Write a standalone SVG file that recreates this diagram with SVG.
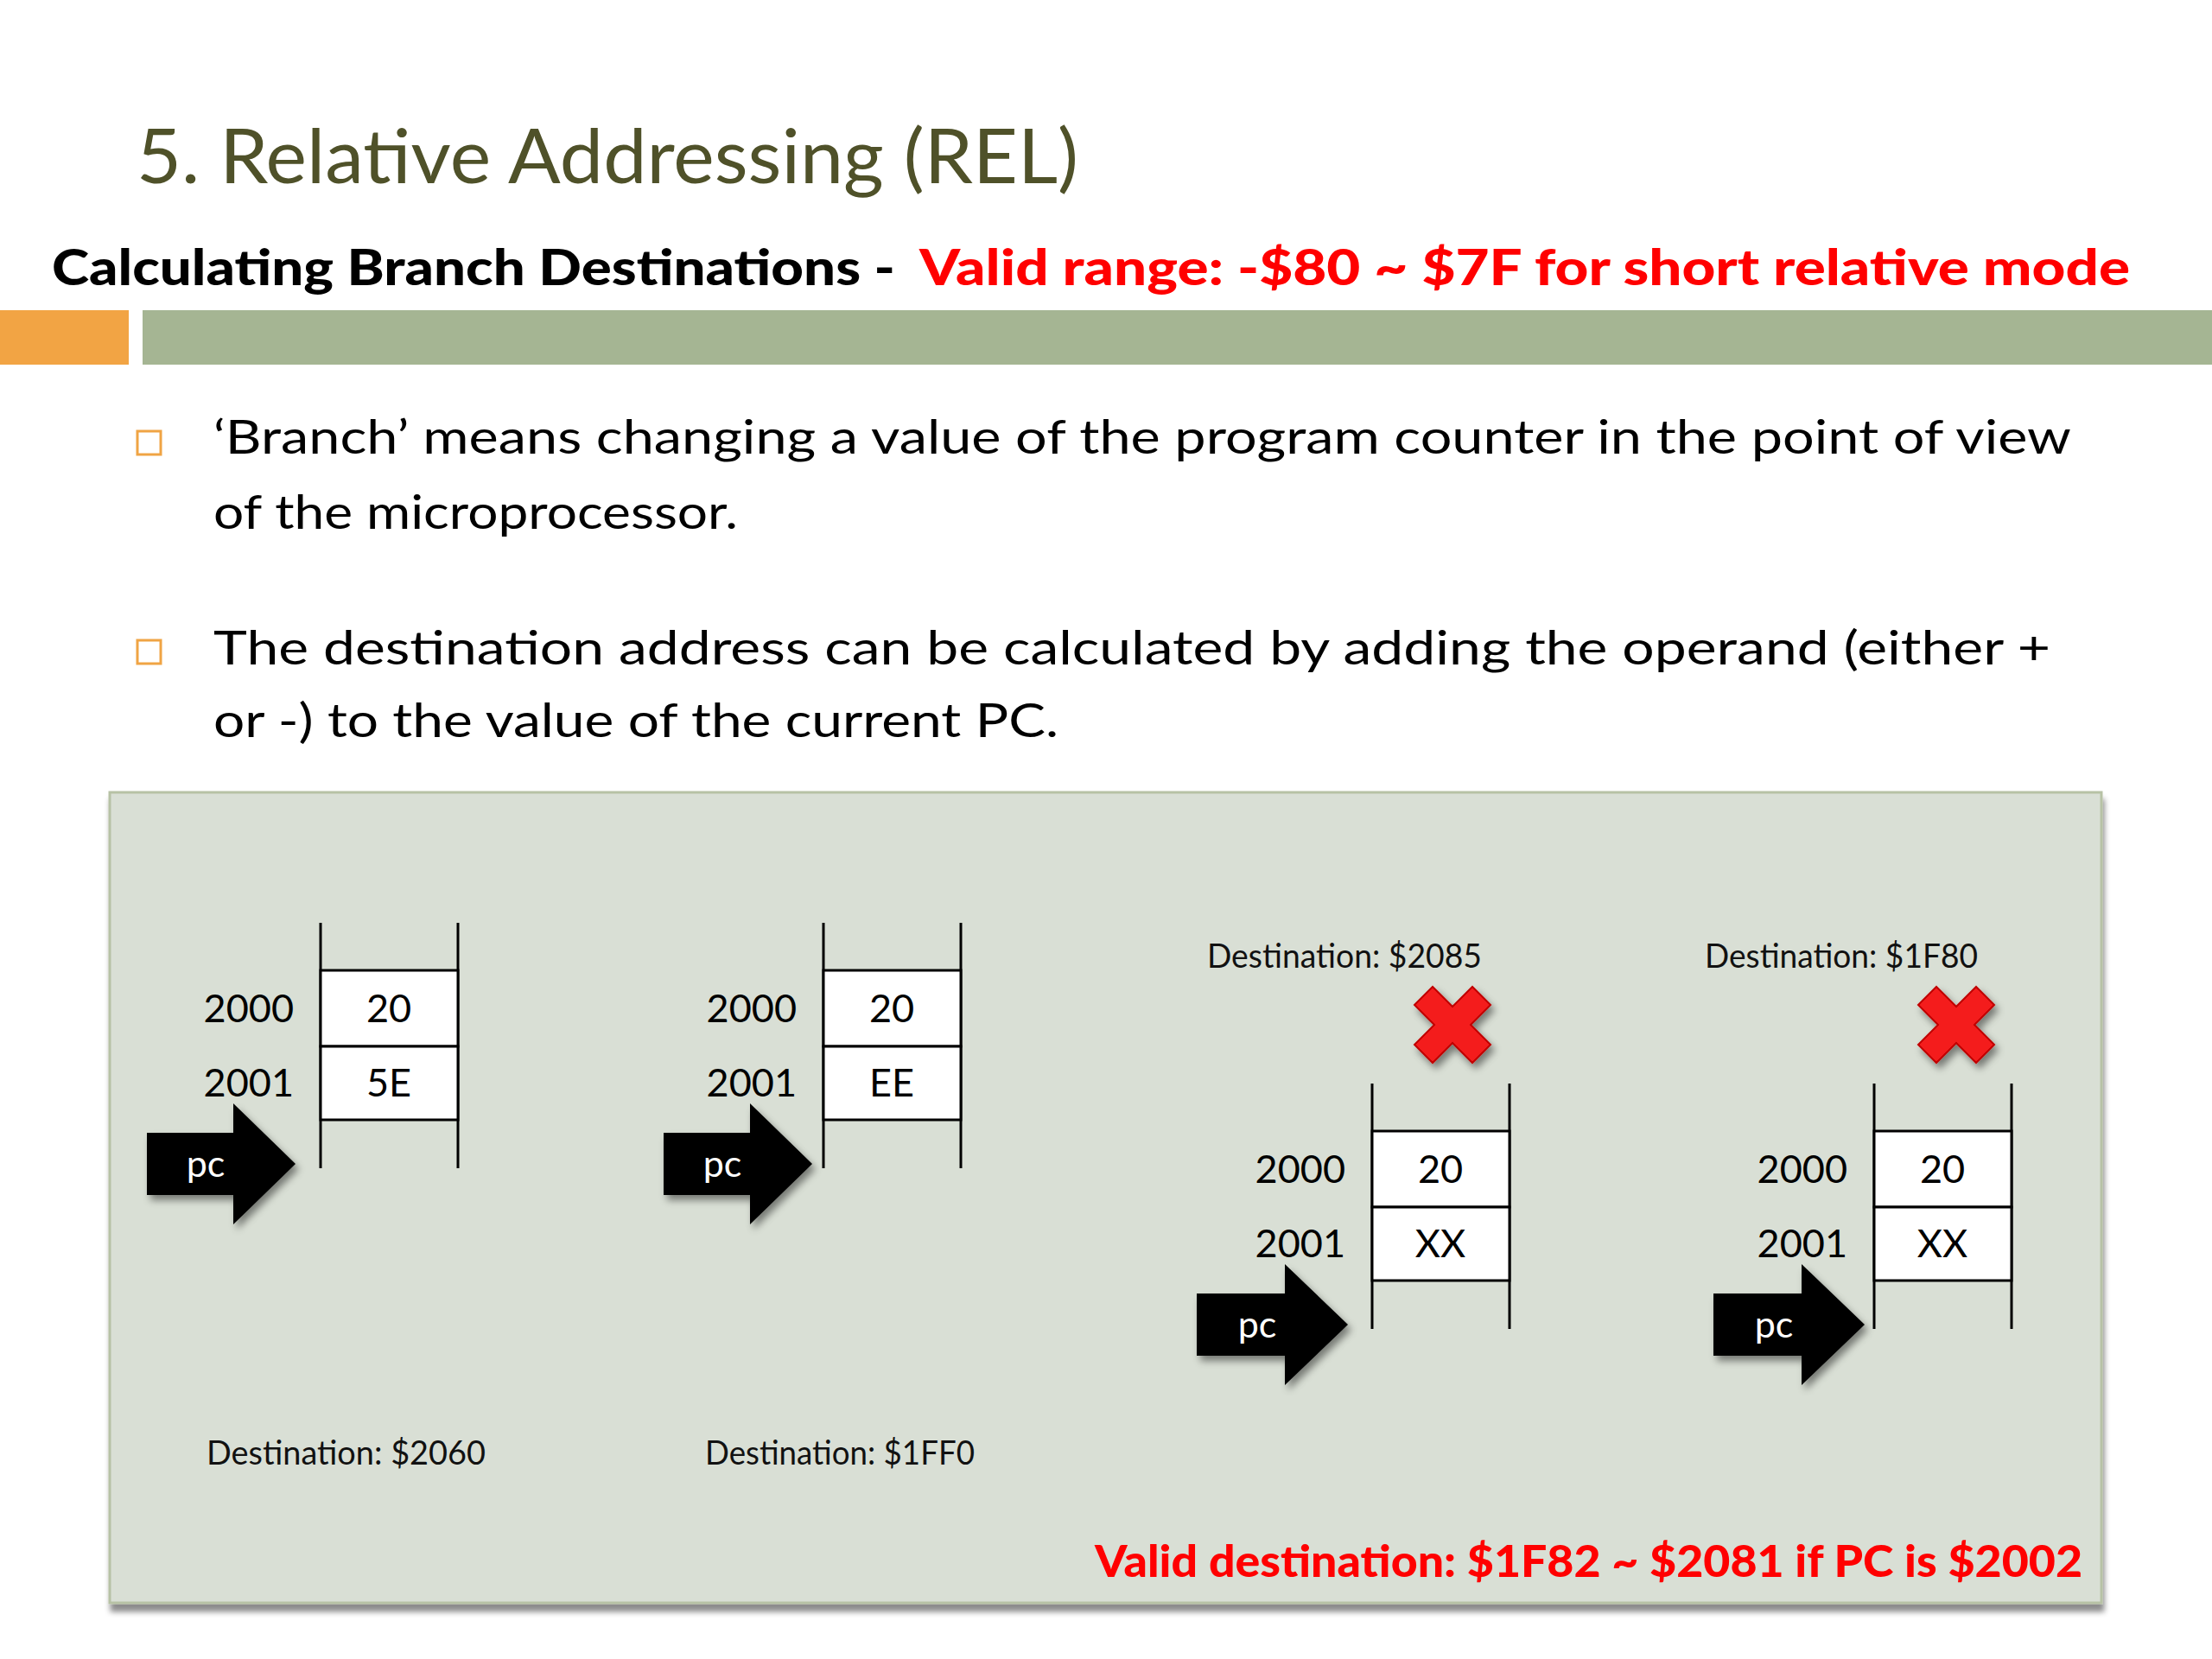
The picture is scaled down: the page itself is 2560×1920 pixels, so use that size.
<svg xmlns="http://www.w3.org/2000/svg" width="2560" height="1920" viewBox="0 0 2560 1920">
<style>
.title{font-family:Lato,"Open Sans","DejaVu Sans",sans-serif;font-size:88px;fill:#4F5129}
.sub{font-family:Lato,"Open Sans","DejaVu Sans",sans-serif;font-size:58px;font-weight:900}
.body{font-family:Lato,"Open Sans","DejaVu Sans",sans-serif;font-size:54px;fill:#000}
.dest{font-family:Lato,"Open Sans","DejaVu Sans",sans-serif;font-size:38px;fill:#111}
.mem{font-family:Lato,"Open Sans","DejaVu Sans",sans-serif;font-size:45px;fill:#000}
.pc{font-family:Lato,"Open Sans","DejaVu Sans",sans-serif;font-size:43px;fill:#fff}
.red{fill:#FF0000}
.cell{fill:#fff;stroke:#000;stroke-width:3}
.rail{stroke:#000;stroke-width:3}
.arrow{fill:#000;filter:url(#sh)}
.xmark{fill:#F41E1E;stroke:#C00000;stroke-width:2;filter:url(#sh)}
.bullet{fill:none;stroke:#F0A444;stroke-width:3}
</style>
<defs>
<filter id="sh" x="-30%" y="-30%" width="160%" height="160%">
<feDropShadow dx="4" dy="6" stdDeviation="4" flood-color="#000" flood-opacity="0.45"/>
</filter>
<filter id="psh" x="-5%" y="-5%" width="110%" height="115%">
<feDropShadow dx="2" dy="9" stdDeviation="3" flood-color="#000" flood-opacity="0.45"/>
</filter>
</defs>
<rect width="2560" height="1920" fill="#fff"/>

<g id="header">
<text class="title" x="158" y="212" textLength="1090" lengthAdjust="spacingAndGlyphs">5. Relative Addressing (REL)</text>
<text class="sub" x="60" y="330" textLength="976" lengthAdjust="spacingAndGlyphs" fill="#000">Calculating Branch Destinations -</text>
<text class="sub red" x="1064" y="330" textLength="1401" lengthAdjust="spacingAndGlyphs">Valid range: -$80 ~ $7F for short relative mode</text>
<rect x="0" y="359" width="149" height="63" fill="#F2A444"/>
<rect x="165" y="359" width="2395" height="63" fill="#A5B593"/>
</g>

<g id="bullets">
<rect class="bullet" x="159" y="499" width="27" height="27"/>
<text class="body" x="247" y="525" textLength="2150" lengthAdjust="spacingAndGlyphs">‘Branch’ means changing a value of the program counter in the point of view</text>
<text class="body" x="247" y="612" textLength="607" lengthAdjust="spacingAndGlyphs">of the microprocessor.</text>
<rect class="bullet" x="159" y="741" width="27" height="27"/>
<text class="body" x="247" y="769" textLength="2126" lengthAdjust="spacingAndGlyphs">The destination address can be calculated by adding the operand (either +</text>
<text class="body" x="247" y="853" textLength="978" lengthAdjust="spacingAndGlyphs">or -) to the value of the current PC.</text>
</g>

<g id="panel">
<rect x="127" y="917" width="2305" height="938" fill="#D9DFD5" stroke="#B7C2A5" stroke-width="3" filter="url(#psh)"/>
</g>

<g id="connectors"></g>

<g id="example1">
<line class="rail" x1="371" y1="1068" x2="371" y2="1352"/>
<line class="rail" x1="530" y1="1068" x2="530" y2="1352"/>
<rect class="cell" x="371" y="1123" width="159" height="88"/>
<rect class="cell" x="371" y="1211" width="159" height="85"/>
<text class="mem" x="340" y="1183" text-anchor="end">2000</text>
<text class="mem" x="340" y="1269" text-anchor="end">2001</text>
<text class="mem" x="450" y="1183" text-anchor="middle">20</text>
<text class="mem" x="450" y="1269" text-anchor="middle">5E</text>
<polygon class="arrow" points="170,1311 270,1311 270,1277 342,1347 270,1417 270,1383 170,1383"/>
<text class="pc" x="238" y="1362" text-anchor="middle">pc</text>
<text class="dest" x="239" y="1695" textLength="323" lengthAdjust="spacingAndGlyphs">Destination: $2060</text>
</g>

<g id="example2">
<line class="rail" x1="953" y1="1068" x2="953" y2="1352"/>
<line class="rail" x1="1112" y1="1068" x2="1112" y2="1352"/>
<rect class="cell" x="953" y="1123" width="159" height="88"/>
<rect class="cell" x="953" y="1211" width="159" height="85"/>
<text class="mem" x="922" y="1183" text-anchor="end">2000</text>
<text class="mem" x="922" y="1269" text-anchor="end">2001</text>
<text class="mem" x="1032" y="1183" text-anchor="middle">20</text>
<text class="mem" x="1032" y="1269" text-anchor="middle">EE</text>
<polygon class="arrow" points="768,1311 868,1311 868,1277 940,1347 868,1417 868,1383 768,1383"/>
<text class="pc" x="836" y="1362" text-anchor="middle">pc</text>
<text class="dest" x="816" y="1695" textLength="312" lengthAdjust="spacingAndGlyphs">Destination: $1FF0</text>
</g>

<g id="example3">
<text class="dest" x="1397" y="1120" textLength="318" lengthAdjust="spacingAndGlyphs">Destination: $2085</text>
<polygon class="xmark" transform="translate(1681,1186)" points="-44,-23 -23,-44 0,-21 23,-44 44,-23 21,0 44,23 23,44 0,21 -23,44 -44,23 -21,0"/>
<line class="rail" x1="1588" y1="1254" x2="1588" y2="1538"/>
<line class="rail" x1="1747" y1="1254" x2="1747" y2="1538"/>
<rect class="cell" x="1588" y="1309" width="159" height="88"/>
<rect class="cell" x="1588" y="1397" width="159" height="85"/>
<text class="mem" x="1557" y="1369" text-anchor="end">2000</text>
<text class="mem" x="1557" y="1455" text-anchor="end">2001</text>
<text class="mem" x="1667" y="1369" text-anchor="middle">20</text>
<text class="mem" x="1667" y="1455" text-anchor="middle">XX</text>
<polygon class="arrow" points="1385,1497 1487,1497 1487,1463 1560,1533 1487,1603 1487,1569 1385,1569"/>
<text class="pc" x="1455" y="1548" text-anchor="middle">pc</text>
</g>

<g id="example4">
<text class="dest" x="1973" y="1120" textLength="316" lengthAdjust="spacingAndGlyphs">Destination: $1F80</text>
<polygon class="xmark" transform="translate(2264,1186)" points="-44,-23 -23,-44 0,-21 23,-44 44,-23 21,0 44,23 23,44 0,21 -23,44 -44,23 -21,0"/>
<line class="rail" x1="2169" y1="1254" x2="2169" y2="1538"/>
<line class="rail" x1="2328" y1="1254" x2="2328" y2="1538"/>
<rect class="cell" x="2169" y="1309" width="159" height="88"/>
<rect class="cell" x="2169" y="1397" width="159" height="85"/>
<text class="mem" x="2138" y="1369" text-anchor="end">2000</text>
<text class="mem" x="2138" y="1455" text-anchor="end">2001</text>
<text class="mem" x="2248" y="1369" text-anchor="middle">20</text>
<text class="mem" x="2248" y="1455" text-anchor="middle">XX</text>
<polygon class="arrow" points="1983,1497 2085,1497 2085,1463 2158,1533 2085,1603 2085,1569 1983,1569"/>
<text class="pc" x="2053" y="1548" text-anchor="middle">pc</text>
</g>

<g id="note">
<text class="sub red" x="1267" y="1825" style="font-size:52px" textLength="1143" lengthAdjust="spacingAndGlyphs">Valid destination: $1F82 ~ $2081 if PC is $2002</text>
</g>
</svg>
